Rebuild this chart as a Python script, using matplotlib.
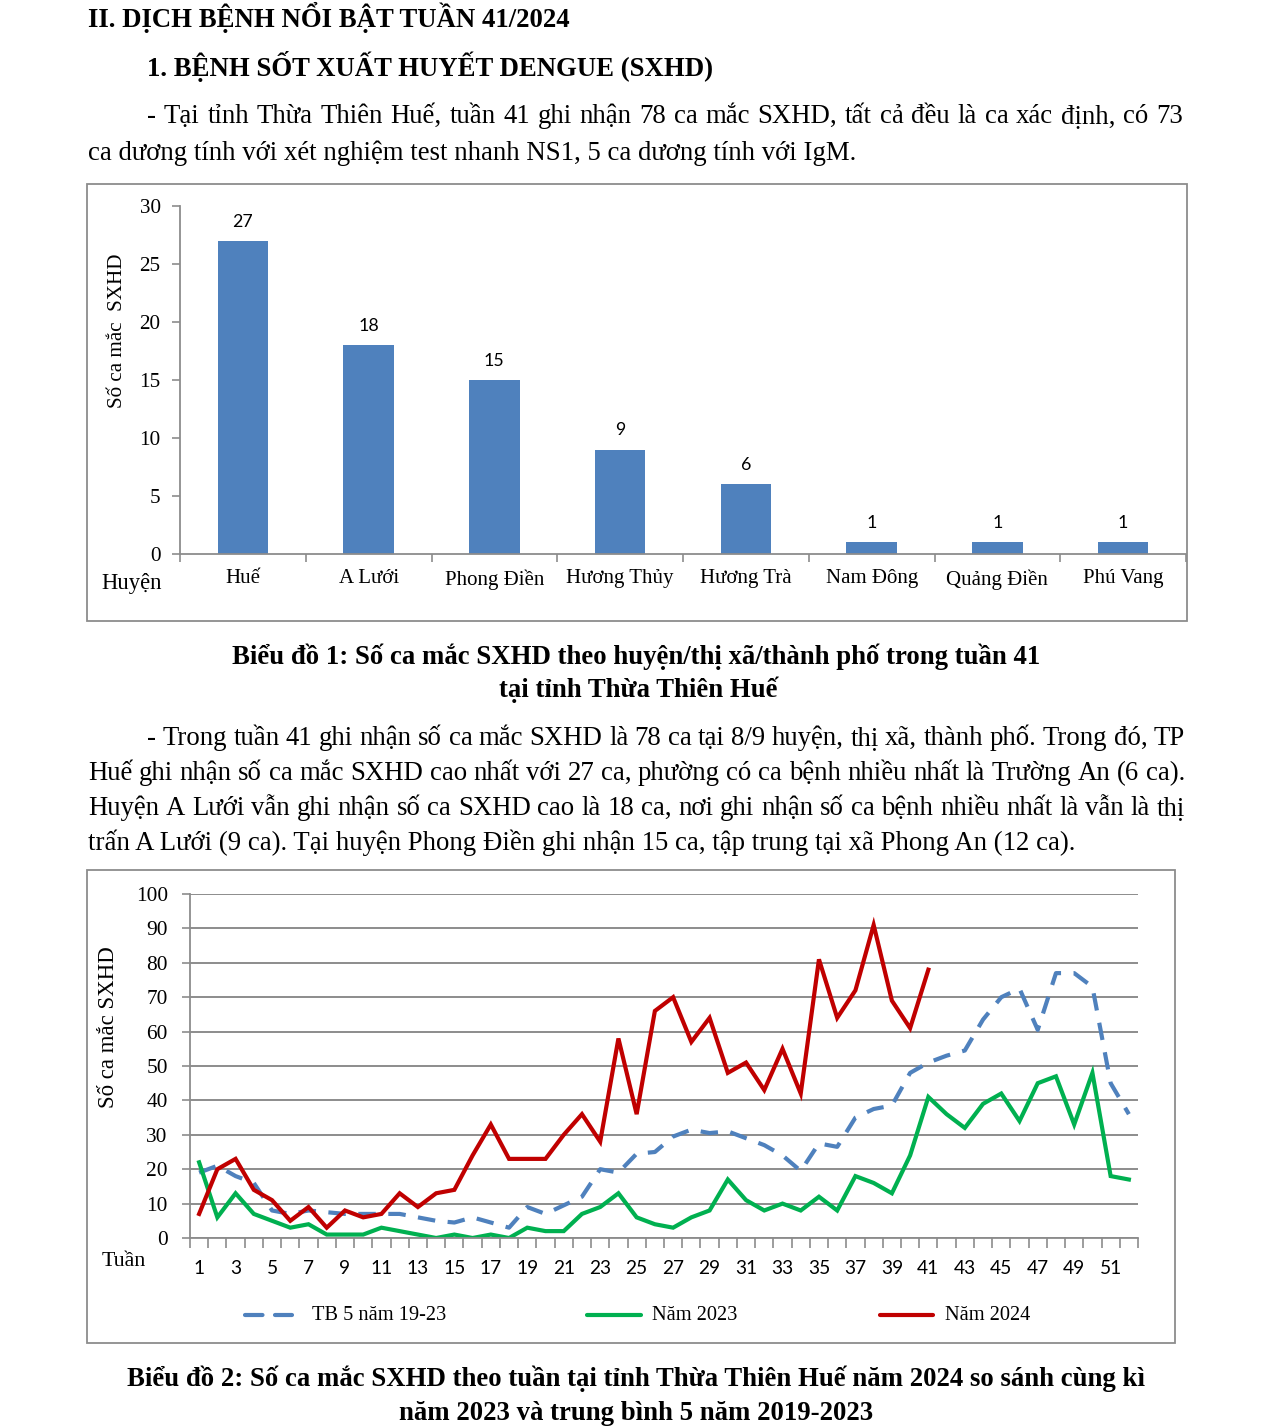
import matplotlib
matplotlib.use("Agg")
import matplotlib.pyplot as plt
from matplotlib.lines import Line2D
from matplotlib.patches import Rectangle
import numpy as np

W, H = 1273, 1428
SERIF = ['Liberation Serif', 'DejaVu Serif']
SANS = ['Lato', 'DejaVu Sans']

# ---------------- data ----------------
districts = ["Huế", "A Lưới", "Phong Điền", "Hương Thủy", "Hương Trà",
             "Nam Đông", "Quảng Điền", "Phú Vang"]
cases_week41 = [27, 18, 15, 9, 6, 1, 1, 1]

weeks = list(range(1, 53))
avg_5y = [19, 21, 18, 16, 8, 7, 8, 7.5, 7, 7, 7, 7, 6, 5, 4.5, 6, 4.5, 3,
          9, 7, 9.5, 12, 20, 19, 24.5, 25, 29.5, 31.5, 30.5, 31, 29, 27, 24,
          19.5, 27.5, 26.5, 35, 37.5, 38.5, 48, 51, 53, 54.5, 63.5, 70, 72.5,
          60.5, 77, 77, 73, 45, 36]
year_2023 = [22, 6, 13, 7, 5, 3, 4, 1, 1, 1, 3, 2, 1, 0, 1, 0, 1, 0,
             3, 2, 2, 7, 9, 13, 6, 4, 3, 6, 8, 17, 11, 8, 10, 8, 12, 8,
             18, 16, 13, 24, 41, 36, 32, 39, 42, 34, 45, 47, 33, 48, 18, 17]
year_2024 = [7, 20, 23, 14, 11, 5, 9, 3, 8, 6, 7, 13, 9, 13, 14, 24, 33, 23,
             23, 23, 30, 36, 28, 58, 36, 66, 70, 57, 64, 48, 51, 43, 55, 42,
             81, 64, 72, 91, 69, 61, 78]
week_ticks = list(range(1, 53, 2))

# ---------------- figure ----------------
fig = plt.figure(figsize=(W / 100, H / 100), dpi=100)
fig.patch.set_facecolor('white')


def P(x, y):
    return (x / W, 1 - y / H)


def txt(x, y, s, **kw):
    kw.setdefault('family', SERIF)
    return fig.text(*P(x, y), s, **kw)


renderer = fig.canvas.get_renderer()


def justified(s, x0, x1, yb, **kw):
    kw.setdefault('family', SERIF)
    words = s.split(' ')
    arts = [fig.text(0, 0, w, va='baseline', **kw) for w in words]
    widths = [a.get_window_extent(renderer).width for a in arts]
    gap = (x1 - x0 - sum(widths)) / (len(words) - 1)
    x = x0
    for a, w in zip(arts, widths):
        a.set_position(P(x, yb))
        x += w + gap


BODY = 19.3
txt(88, 27, "II. DỊCH BỆNH NỔI BẬT TUẦN 41/2024", fontsize=BODY,
    weight='bold', va='baseline')
txt(147, 76, "1. BỆNH SỐT XUẤT HUYẾT DENGUE (SXHD)", fontsize=BODY,
    weight='bold', va='baseline')
justified("- Tại tỉnh Thừa Thiên Huế, tuần 41 ghi nhận 78 ca mắc SXHD, tất cả "
          "đều là ca xác định, có 73", 147, 1183, 123, fontsize=BODY)
txt(88, 160, "ca dương tính với xét nghiệm test nhanh NS1, 5 ca dương tính với IgM.",
    fontsize=BODY, va='baseline')

txt(636, 664, "Biểu đồ 1: Số ca mắc SXHD theo huyện/thị xã/thành phố trong tuần 41",
    fontsize=BODY, weight='bold', va='baseline', ha='center')
txt(638, 697, "tại tỉnh Thừa Thiên Huế", fontsize=BODY, weight='bold',
    va='baseline', ha='center')

justified("- Trong tuần 41 ghi nhận số ca mắc SXHD là 78 ca tại 8/9 huyện, thị xã, "
          "thành phố. Trong đó, TP", 147, 1185, 745, fontsize=BODY)
justified("Huế ghi nhận số ca mắc SXHD cao nhất với 27 ca, phường có ca bệnh nhiều "
          "nhất là Trường An (6 ca).", 88, 1185, 780, fontsize=BODY)
justified("Huyện A Lưới vẫn ghi nhận số ca SXHD cao là 18 ca, nơi ghi nhận số ca "
          "bệnh nhiều nhất là vẫn là thị", 88, 1185, 815, fontsize=BODY)
txt(88, 850, "trấn A Lưới (9 ca). Tại huyện Phong Điền ghi nhận 15 ca, tập trung tại "
    "xã Phong An (12 ca).", fontsize=BODY, va='baseline')

txt(636, 1386, "Biểu đồ 2: Số ca mắc SXHD theo tuần tại tỉnh Thừa Thiên Huế năm 2024 "
    "so sánh cùng kì", fontsize=BODY, weight='bold', va='baseline', ha='center')
txt(636, 1420, "năm 2023 và trung bình 5 năm 2019-2023", fontsize=BODY,
    weight='bold', va='baseline', ha='center')

GRAY = '#8c8c8c'

# ---------------- chart 1: bars ----------------
fig.add_artist(Rectangle(P(87, 621), (1187 - 87) / W, (621 - 184) / H,
                         transform=fig.transFigure, fill=False,
                         edgecolor=GRAY, lw=1.3))
l, r, t, b = 180, 1186, 206, 554
ax1 = fig.add_axes([l / W, 1 - b / H, (r - l) / W, (b - t) / H])
x = np.arange(len(districts))
bars = ax1.bar(x, cases_week41, width=0.4, color='#4F81BD')
ax1.bar_label(bars, labels=[str(v) for v in cases_week41], padding=8,
              fontsize=12.8, family=SANS)
ax1.set_xlim(-0.5, len(districts) - 0.5)
ax1.set_ylim(0, 30)
ax1.set_yticks(range(0, 31, 5))
ax1.set_xticks(x)
ax1.set_xticklabels(districts, family=SERIF, fontsize=15)
ax1.set_xticks(np.arange(-0.5, len(districts), 1), minor=True)
ax1.tick_params(axis='x', which='major', length=0, pad=11)
ax1.tick_params(axis='x', which='minor', length=6, color=GRAY, width=1.2,
                direction='out')
ax1.tick_params(axis='y', length=6, color=GRAY, width=1.2, pad=8)
for lab in ax1.get_yticklabels():
    lab.set_family(SERIF)
    lab.set_fontsize(15.2)
for s in ['top', 'right']:
    ax1.spines[s].set_visible(False)
for s in ['left', 'bottom']:
    ax1.spines[s].set_color(GRAY)
    ax1.spines[s].set_linewidth(1.3)
ax1.patch.set_alpha(0)
txt(118, 331, "Số ca mắc  SXHD", fontsize=15.2, rotation=90, ha='center',
    va='center')
txt(132, 583, "Huyện", fontsize=16.3, ha='center', va='center')

# ---------------- chart 2: lines ----------------
fig.add_artist(Rectangle(P(87, 1343), (1175 - 87) / W, (1343 - 870) / H,
                         transform=fig.transFigure, fill=False,
                         edgecolor=GRAY, lw=1.3))
l, r, t, b = 190, 1138, 894, 1238
ax2 = fig.add_axes([l / W, 1 - b / H, (r - l) / W, (b - t) / H])
ax2.set_xlim(0.5, 52.5)
ax2.set_ylim(0, 100)
ax2.set_yticks(range(0, 101, 10))
ax2.grid(axis='y', color=GRAY, lw=1.4)
ax2.set_axisbelow(True)
BLUE, GREEN, RED = '#4F81BD', '#00B050', '#C00000'
ax2.plot(weeks, avg_5y, color=BLUE, lw=3, dashes=(4.2, 3.0),
         solid_joinstyle='round')
ax2.plot(weeks, year_2023, color=GREEN, lw=3, solid_joinstyle='miter')
ax2.plot(weeks[:len(year_2024)], year_2024, color=RED, lw=3,
         solid_joinstyle='miter')
ax2.set_xticks(week_ticks)
ax2.set_xticklabels([str(w) for w in week_ticks], family=SANS, fontsize=13.8)
ax2.set_xticks(np.arange(0.5, 53, 1), minor=True)
ax2.tick_params(axis='x', which='major', length=0, pad=16)
ax2.tick_params(axis='x', which='minor', length=7, color=GRAY, width=1.2,
                direction='out')
ax2.tick_params(axis='y', length=6, color=GRAY, width=1.2, pad=10)
for lab in ax2.get_yticklabels():
    lab.set_family(SERIF)
    lab.set_fontsize(15.4)
for s in ['top', 'right']:
    ax2.spines[s].set_visible(False)
for s in ['left', 'bottom']:
    ax2.spines[s].set_color(GRAY)
    ax2.spines[s].set_linewidth(1.3)
ax2.patch.set_alpha(0)
txt(109, 1027, "Số ca mắc SXHD", fontsize=16.5, rotation=90, ha='center',
    va='center')
txt(124, 1261, "Tuần", fontsize=15.8, ha='center', va='center')

# legend
legend_items = [("TB 5 năm 19-23", BLUE, (4.2, 3.0), 245, 292, 312),
                ("Năm 2023", GREEN, None, 587, 641, 652),
                ("Năm 2024", RED, None, 880, 933, 945)]
for label, col, dash, xa, xb, xt in legend_items:
    (fx0, fy), (fx1, _) = P(xa, 1315), P(xb, 1315)
    ln = Line2D([fx0, fx1], [fy, fy], transform=fig.transFigure, color=col,
                lw=3, solid_capstyle='round')
    if dash:
        ln.set_dashes(dash)
        ln.set_dash_capstyle('round')
    fig.add_artist(ln)
    txt(xt, 1315, label, fontsize=14.7, va='center')

fig.savefig("out.png", dpi=100, facecolor='white')
